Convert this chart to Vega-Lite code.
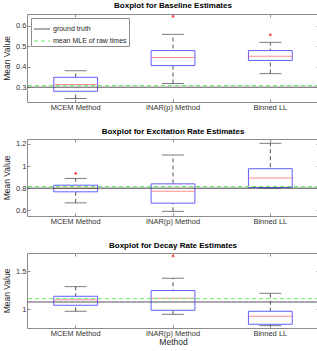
{
  "$schema": "https://vega.github.io/schema/vega-lite/v6.json",
  "padding": {"left": 2, "top": 1, "right": 1, "bottom": 1},
  "background": "white",
  "config": {
    "font": "Liberation Sans",
    "view": {"stroke": "#8c8c8c", "strokeWidth": 1},
    "axis": {"labelFont": "Liberation Sans", "titleFont": "Liberation Sans", "labelFontSize": 7.5, "titleFontSize": 8.5, "titleFontWeight": "normal", "labelColor": "#333333", "titleColor": "#262626", "domain": false, "grid": false, "tickColor": "#8c8c8c", "tickSize": -3, "labelPadding": 4, "labelOverlap": false, "labelFlush": false, "labelBound": false},
    "title": {"font": "Liberation Sans", "fontSize": 8, "fontWeight": "bold", "color": "#000000", "offset": 3, "anchor": "middle"},
    "legend": {"labelFont": "Liberation Sans"}
  },
  "datasets": {
    "box": [
      {"panel": "baseline", "method": "MCEM Method", "lower": 0.245, "q1": 0.28, "median": 0.313, "q3": 0.348, "upper": 0.38},
      {"panel": "baseline", "method": "INAR(p) Method", "lower": 0.318, "q1": 0.405, "median": 0.445, "q3": 0.478, "upper": 0.557},
      {"panel": "baseline", "method": "Binned LL", "lower": 0.366, "q1": 0.43, "median": 0.45, "q3": 0.478, "upper": 0.518},
      {"panel": "excitation", "method": "MCEM Method", "lower": 0.667, "q1": 0.767, "median": 0.797, "q3": 0.827, "upper": 0.888},
      {"panel": "excitation", "method": "INAR(p) Method", "lower": 0.59, "q1": 0.664, "median": 0.773, "q3": 0.839, "upper": 1.1},
      {"panel": "excitation", "method": "Binned LL", "lower": 0.8, "q1": 0.806, "median": 0.891, "q3": 0.976, "upper": 1.206},
      {"panel": "decay", "method": "MCEM Method", "lower": 0.974, "q1": 1.053, "median": 1.127, "q3": 1.171, "upper": 1.298},
      {"panel": "decay", "method": "INAR(p) Method", "lower": 0.934, "q1": 0.987, "median": 1.145, "q3": 1.246, "upper": 1.408},
      {"panel": "decay", "method": "Binned LL", "lower": 0.785, "q1": 0.803, "median": 0.908, "q3": 0.974, "upper": 1.21}
    ],
    "outliers": [
      {"panel": "baseline", "method": "INAR(p) Method", "value": 0.645},
      {"panel": "baseline", "method": "Binned LL", "value": 0.555},
      {"panel": "excitation", "method": "MCEM Method", "value": 0.933},
      {"panel": "decay", "method": "INAR(p) Method", "value": 1.70}
    ],
    "refs": [
      {"panel": "baseline", "name": "ground truth", "value": 0.3},
      {"panel": "baseline", "name": "mean MLE of raw times", "value": 0.308},
      {"panel": "excitation", "name": "ground truth", "value": 0.8},
      {"panel": "excitation", "name": "mean MLE of raw times", "value": 0.815},
      {"panel": "decay", "name": "ground truth", "value": 1.096},
      {"panel": "decay", "name": "mean MLE of raw times", "value": 1.14}
    ]
  },
  "spacing": 16,
  "resolve": {"legend": {"color": "independent", "strokeDash": "independent"}},
  "vconcat": [
    {
      "width": 292, "height": 88,
      "title": "Boxplot for Baseline Estimates",
      "resolve": {"axis": {"x": "independent", "y": "independent"}},
      "layer": [
        {"data": {"name": "box"}, "transform": [{"filter": "datum.panel === 'baseline'"}],
         "mark": {"type": "rule", "color": "#555555", "strokeDash": [4, 3], "strokeWidth": 1},
         "encoding": {
           "x": {"field": "method", "type": "nominal", "sort": ["MCEM Method", "INAR(p) Method", "Binned LL"], "scale": {"type": "band", "paddingInner": 0, "paddingOuter": 0}, "axis": {"title": null, "labelAngle": 0}},
           "y": {"field": "lower", "type": "quantitative", "scale": {"domain": [0.228, 0.656], "nice": false, "zero": false}, "axis": {"title": "Mean Value", "values": [0.3, 0.4, 0.5, 0.6], "format": "~g", "labelOverlap": false}},
           "y2": {"field": "upper"}}},
        {"data": {"name": "box"}, "transform": [{"filter": "datum.panel === 'baseline'"}],
         "mark": {"type": "tick", "color": "#444444", "size": 22, "thickness": 1},
         "encoding": {"x": {"field": "method", "type": "nominal", "sort": ["MCEM Method", "INAR(p) Method", "Binned LL"], "axis": {"orient": "top", "labels": false, "title": null}}, "y": {"field": "upper", "type": "quantitative", "axis": {"orient": "right", "labels": false, "title": null, "values": [0.3, 0.4, 0.5, 0.6]}}}},
        {"data": {"name": "box"}, "transform": [{"filter": "datum.panel === 'baseline'"}],
         "mark": {"type": "tick", "color": "#444444", "size": 22, "thickness": 1},
         "encoding": {"x": {"field": "method", "type": "nominal", "sort": ["MCEM Method", "INAR(p) Method", "Binned LL"], "axis": null}, "y": {"field": "lower", "type": "quantitative", "axis": null}}},
        {"data": {"name": "box"}, "transform": [{"filter": "datum.panel === 'baseline'"}],
         "mark": {"type": "bar", "fill": "white", "stroke": "#5f5fff", "strokeWidth": 1, "width": {"band": 0.45}},
         "encoding": {"x": {"field": "method", "type": "nominal", "sort": ["MCEM Method", "INAR(p) Method", "Binned LL"], "axis": null}, "y": {"field": "q1", "type": "quantitative", "axis": null}, "y2": {"field": "q3"}}},
        {"data": {"name": "box"}, "transform": [{"filter": "datum.panel === 'baseline'"}],
         "mark": {"type": "tick", "color": "#ff6060", "size": 44, "thickness": 1},
         "encoding": {"x": {"field": "method", "type": "nominal", "sort": ["MCEM Method", "INAR(p) Method", "Binned LL"], "axis": null}, "y": {"field": "median", "type": "quantitative", "axis": null}}},
        {"data": {"name": "outliers"}, "transform": [{"filter": "datum.panel === 'baseline'"}],
         "mark": {"type": "point", "shape": "M-1,0L1,0M0,-1L0,1", "size": 9, "filled": false, "stroke": "#ff3030", "strokeWidth": 1, "opacity": 1},
         "encoding": {"x": {"field": "method", "type": "nominal", "sort": ["MCEM Method", "INAR(p) Method", "Binned LL"], "axis": null}, "y": {"field": "value", "type": "quantitative", "axis": null}}},
        {"data": {"name": "refs"}, "transform": [{"filter": "datum.panel === 'baseline'"}],
         "mark": {"type": "rule", "strokeWidth": 1},
         "encoding": {
           "y": {"field": "value", "type": "quantitative", "axis": null},
           "color": {"field": "name", "type": "nominal", "scale": {"domain": ["ground truth", "mean MLE of raw times"], "range": ["#555555", "#66ee66"]}, "legend": {"title": null, "orient": "none", "legendX": 4, "legendY": 4, "fillColor": "white", "strokeColor": "#8c8c8c", "padding": 2, "labelFontSize": 7, "labelColor": "#262626", "symbolType": "stroke", "symbolSize": 260, "symbolStrokeWidth": 1, "rowPadding": 0, "labelOffset": 2}},
           "strokeDash": {"field": "name", "type": "nominal", "scale": {"domain": ["ground truth", "mean MLE of raw times"], "range": [[1, 0], [4, 3]]}, "legend": {"title": null, "orient": "none", "legendX": 4, "legendY": 4, "fillColor": "white", "strokeColor": "#8c8c8c", "padding": 2, "labelFontSize": 7, "labelColor": "#262626", "symbolType": "stroke", "symbolSize": 260, "symbolStrokeWidth": 1, "rowPadding": 0, "labelOffset": 2}}}}
      ]
    },
    {
      "width": 292, "height": 77,
      "title": "Boxplot for Excitation Rate Estimates",
      "resolve": {"axis": {"x": "independent", "y": "independent"}},
      "layer": [
        {"data": {"name": "box"}, "transform": [{"filter": "datum.panel === 'excitation'"}],
         "mark": {"type": "rule", "color": "#555555", "strokeDash": [4, 3], "strokeWidth": 1},
         "encoding": {
           "x": {"field": "method", "type": "nominal", "sort": ["MCEM Method", "INAR(p) Method", "Binned LL"], "scale": {"type": "band", "paddingInner": 0, "paddingOuter": 0}, "axis": {"title": null, "labelAngle": 0}},
           "y": {"field": "lower", "type": "quantitative", "scale": {"domain": [0.548, 1.245], "nice": false, "zero": false}, "axis": {"title": "Mean Value", "values": [0.6, 0.8, 1, 1.2], "format": "~g", "labelOverlap": false}},
           "y2": {"field": "upper"}}},
        {"data": {"name": "box"}, "transform": [{"filter": "datum.panel === 'excitation'"}],
         "mark": {"type": "tick", "color": "#444444", "size": 22, "thickness": 1},
         "encoding": {"x": {"field": "method", "type": "nominal", "sort": ["MCEM Method", "INAR(p) Method", "Binned LL"], "axis": {"orient": "top", "labels": false, "title": null}}, "y": {"field": "upper", "type": "quantitative", "axis": {"orient": "right", "labels": false, "title": null, "values": [0.6, 0.8, 1, 1.2]}}}},
        {"data": {"name": "box"}, "transform": [{"filter": "datum.panel === 'excitation'"}],
         "mark": {"type": "tick", "color": "#444444", "size": 22, "thickness": 1},
         "encoding": {"x": {"field": "method", "type": "nominal", "sort": ["MCEM Method", "INAR(p) Method", "Binned LL"], "axis": null}, "y": {"field": "lower", "type": "quantitative", "axis": null}}},
        {"data": {"name": "box"}, "transform": [{"filter": "datum.panel === 'excitation'"}],
         "mark": {"type": "bar", "fill": "white", "stroke": "#5f5fff", "strokeWidth": 1, "width": {"band": 0.45}},
         "encoding": {"x": {"field": "method", "type": "nominal", "sort": ["MCEM Method", "INAR(p) Method", "Binned LL"], "axis": null}, "y": {"field": "q1", "type": "quantitative", "axis": null}, "y2": {"field": "q3"}}},
        {"data": {"name": "box"}, "transform": [{"filter": "datum.panel === 'excitation'"}],
         "mark": {"type": "tick", "color": "#ff6060", "size": 44, "thickness": 1},
         "encoding": {"x": {"field": "method", "type": "nominal", "sort": ["MCEM Method", "INAR(p) Method", "Binned LL"], "axis": null}, "y": {"field": "median", "type": "quantitative", "axis": null}}},
        {"data": {"name": "outliers"}, "transform": [{"filter": "datum.panel === 'excitation'"}],
         "mark": {"type": "point", "shape": "M-1,0L1,0M0,-1L0,1", "size": 9, "filled": false, "stroke": "#ff3030", "strokeWidth": 1, "opacity": 1},
         "encoding": {"x": {"field": "method", "type": "nominal", "sort": ["MCEM Method", "INAR(p) Method", "Binned LL"], "axis": null}, "y": {"field": "value", "type": "quantitative", "axis": null}}},
        {"data": {"name": "refs"}, "transform": [{"filter": "datum.panel === 'excitation' && datum.name === 'ground truth'"}],
         "mark": {"type": "rule", "strokeWidth": 1, "color": "#444444"},
         "encoding": {"y": {"field": "value", "type": "quantitative", "axis": null}}},
        {"data": {"name": "refs"}, "transform": [{"filter": "datum.panel === 'excitation' && datum.name === 'mean MLE of raw times'"}],
         "mark": {"type": "rule", "strokeWidth": 1, "color": "#66ee66", "strokeDash": [4, 3]},
         "encoding": {"y": {"field": "value", "type": "quantitative", "axis": null}}}
      ]
    },
    {
      "width": 292, "height": 75,
      "title": "Boxplot for Decay Rate Estimates",
      "resolve": {"axis": {"x": "independent", "y": "independent"}},
      "layer": [
        {"data": {"name": "box"}, "transform": [{"filter": "datum.panel === 'decay'"}],
         "mark": {"type": "rule", "color": "#555555", "strokeDash": [4, 3], "strokeWidth": 1},
         "encoding": {
           "x": {"field": "method", "type": "nominal", "sort": ["MCEM Method", "INAR(p) Method", "Binned LL"], "scale": {"type": "band", "paddingInner": 0, "paddingOuter": 0}, "axis": {"title": "Method", "labelAngle": 0, "titlePadding": 1}},
           "y": {"field": "lower", "type": "quantitative", "scale": {"domain": [0.754, 1.74], "nice": false, "zero": false}, "axis": {"title": "Mean Value", "values": [1, 1.5], "format": "~g", "labelOverlap": false}},
           "y2": {"field": "upper"}}},
        {"data": {"name": "box"}, "transform": [{"filter": "datum.panel === 'decay'"}],
         "mark": {"type": "tick", "color": "#444444", "size": 22, "thickness": 1},
         "encoding": {"x": {"field": "method", "type": "nominal", "sort": ["MCEM Method", "INAR(p) Method", "Binned LL"], "axis": {"orient": "top", "labels": false, "title": null}}, "y": {"field": "upper", "type": "quantitative", "axis": {"orient": "right", "labels": false, "title": null, "values": [1, 1.5]}}}},
        {"data": {"name": "box"}, "transform": [{"filter": "datum.panel === 'decay'"}],
         "mark": {"type": "tick", "color": "#444444", "size": 22, "thickness": 1},
         "encoding": {"x": {"field": "method", "type": "nominal", "sort": ["MCEM Method", "INAR(p) Method", "Binned LL"], "axis": null}, "y": {"field": "lower", "type": "quantitative", "axis": null}}},
        {"data": {"name": "box"}, "transform": [{"filter": "datum.panel === 'decay'"}],
         "mark": {"type": "bar", "fill": "white", "stroke": "#5f5fff", "strokeWidth": 1, "width": {"band": 0.45}},
         "encoding": {"x": {"field": "method", "type": "nominal", "sort": ["MCEM Method", "INAR(p) Method", "Binned LL"], "axis": null}, "y": {"field": "q1", "type": "quantitative", "axis": null}, "y2": {"field": "q3"}}},
        {"data": {"name": "box"}, "transform": [{"filter": "datum.panel === 'decay'"}],
         "mark": {"type": "tick", "color": "#ff6060", "size": 44, "thickness": 1},
         "encoding": {"x": {"field": "method", "type": "nominal", "sort": ["MCEM Method", "INAR(p) Method", "Binned LL"], "axis": null}, "y": {"field": "median", "type": "quantitative", "axis": null}}},
        {"data": {"name": "outliers"}, "transform": [{"filter": "datum.panel === 'decay'"}],
         "mark": {"type": "point", "shape": "M-1,0L1,0M0,-1L0,1", "size": 9, "filled": false, "stroke": "#ff3030", "strokeWidth": 1, "opacity": 1},
         "encoding": {"x": {"field": "method", "type": "nominal", "sort": ["MCEM Method", "INAR(p) Method", "Binned LL"], "axis": null}, "y": {"field": "value", "type": "quantitative", "axis": null}}},
        {"data": {"name": "refs"}, "transform": [{"filter": "datum.panel === 'decay' && datum.name === 'ground truth'"}],
         "mark": {"type": "rule", "strokeWidth": 1, "color": "#555555"},
         "encoding": {"y": {"field": "value", "type": "quantitative", "axis": null}}},
        {"data": {"name": "refs"}, "transform": [{"filter": "datum.panel === 'decay' && datum.name === 'mean MLE of raw times'"}],
         "mark": {"type": "rule", "strokeWidth": 1, "color": "#66ee66", "strokeDash": [4, 3]},
         "encoding": {"y": {"field": "value", "type": "quantitative", "axis": null}}}
      ]
    }
  ]
}
